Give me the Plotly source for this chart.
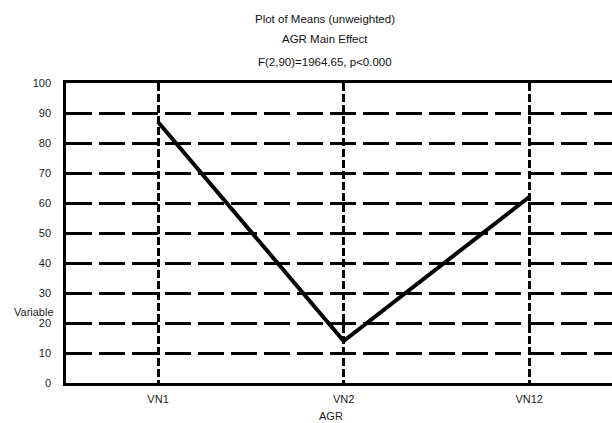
import plotly.graph_objects as go

categories = ["VN1", "VN2", "VN12"]
means = [87, 14, 62]
y_ticks = [0, 10, 20, 30, 40, 50, 60, 70, 80, 90, 100]

title_lines = ["Plot of Means (unweighted)", "AGR Main Effect", "F(2,90)=1964.65, p<0.000"]

FONT = "Liberation Sans, Arial, sans-serif"

# plot area in page pixels
L, T, B = 66, 83, 383
W, H = 612, 423

def px(xp):
    return (xp - L) / (W - L)

def py(yp):
    return (B - yp) / (B - T)

fig = go.Figure()
fig.add_trace(go.Scatter(
    x=list(range(len(categories))), y=means, mode="lines",
    line=dict(color="black", width=4), showlegend=False, hoverinfo="skip",
))

fig.update_layout(
    width=W, height=H,
    margin=dict(l=L, r=0, t=T, b=H - B),
    paper_bgcolor="white", plot_bgcolor="white",
    font=dict(family=FONT, size=11, color="#1a1a1a"),
    showlegend=False,
)
fig.update_xaxes(
    range=[-0.496, 2.446], tickvals=list(range(len(categories))), ticktext=categories,
    showgrid=True, gridcolor="black", gridwidth=2.5, griddash="8px,3px",
    showline=True, linecolor="black", linewidth=2.5, mirror=True,
    zeroline=False, ticks="", ticklabelstandoff=4,
    tickfont=dict(size=11, family=FONT, color="#1a1a1a"),
)
fig.update_yaxes(
    range=[0, 100], tickvals=y_ticks,
    showgrid=True, gridcolor="black", gridwidth=2.5, griddash="26px,7px",
    showline=True, linecolor="black", linewidth=2.5, mirror=False,
    zeroline=False, ticks="", ticklabelstandoff=10,
    tickfont=dict(size=11, family=FONT, color="#1a1a1a"),
)

ys = [19, 39.5, 62]
for txt, yy in zip(title_lines, ys):
    fig.add_annotation(text=txt, x=px(325), y=py(yy), xref="paper", yref="paper",
                       showarrow=False, xanchor="center", yanchor="middle",
                       font=dict(size=11.5, family=FONT, color="#111"))

fig.add_annotation(text="AGR", x=px(331), y=py(416), xref="paper", yref="paper",
                   showarrow=False, xanchor="center", yanchor="middle",
                   font=dict(size=11, family=FONT, color="#1a1a1a"))
fig.add_annotation(text="Variable", x=px(12), y=py(312), xref="paper", yref="paper",
                   showarrow=False, xanchor="left", yanchor="middle",
                   font=dict(size=11, family=FONT, color="#1a1a1a"))

fig.write_html("out.html", config={"displayModeBar": False},
               post_script="document.body.style.margin='0';")
